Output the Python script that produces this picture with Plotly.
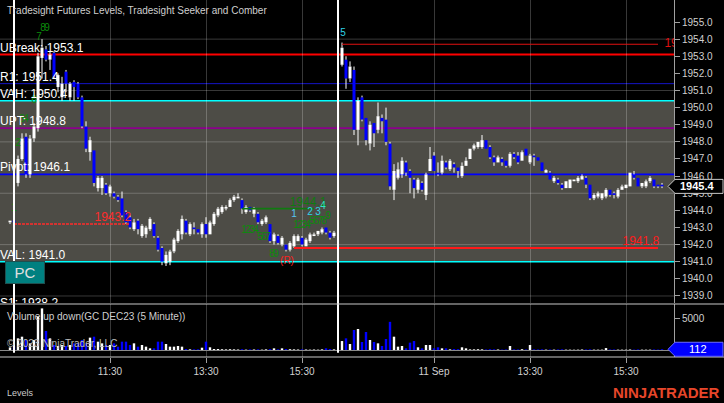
import plotly.graph_objects as go

# ---------------- data ----------------
# equidistant 5-minute bar slots; slot 82 is the session break (no bar)
slots = list(range(0, 82)) + list(range(83, 164))

opens = [
    1943.3, 1943.4, 1945.6, 1947.0, 1948.3, 1946.1, 1948.2, 1948.8, 1952.9, 1953.4,
    1952.8, 1953.2, 1951.2, 1950.6, 1952.1, 1950.6, 1951.5, 1951.4, 1950.6, 1948.9,
    1947.4, 1947.5, 1945.3, 1945.3, 1945.5, 1945.0, 1945.0, 1944.8, 1944.7, 1943.9,
    1943.6, 1942.9, 1943.4, 1942.5, 1942.6, 1942.9, 1943.2, 1942.4, 1941.8, 1940.9,
    1941.0, 1941.6, 1942.2, 1942.6, 1943.4, 1942.6, 1943.0, 1942.9, 1942.6, 1943.2,
    1942.6, 1943.2, 1943.7, 1943.9, 1944.1, 1944.2, 1944.6, 1944.7, 1944.6, 1943.9,
    1944.2, 1943.8, 1943.8, 1943.2, 1943.3, 1943.2, 1942.2, 1942.5, 1942.0, 1942.0,
    1941.7, 1941.9, 1942.2, 1942.4, 1941.9, 1942.2, 1942.5, 1942.6, 1942.7, 1943.0,
    1942.7, 1942.5,
    1952.5, 1952.8, 1951.7, 1952.2, 1948.7, 1950.6, 1949.4, 1947.9, 1949.1, 1948.7,
    1949.4, 1949.3, 1947.9, 1945.2, 1945.9, 1946.1, 1946.8, 1946.3, 1945.8, 1945.2,
    1945.6, 1944.9, 1946.3, 1947.2, 1946.2, 1946.2, 1946.8, 1946.4, 1946.7, 1946.5,
    1946.0, 1946.6, 1947.0, 1947.6, 1947.7, 1947.7, 1948.1, 1947.7, 1947.1, 1946.8,
    1947.0, 1946.9, 1946.6, 1947.3, 1947.2, 1946.9, 1947.6, 1946.8, 1947.2, 1947.1,
    1946.8, 1946.2, 1946.2, 1945.7, 1945.8, 1945.5, 1945.3, 1945.3, 1945.7, 1945.7,
    1945.8, 1945.9, 1945.5, 1944.7, 1944.8, 1944.7, 1944.8, 1945.2, 1945.0, 1944.8,
    1945.2, 1945.3, 1945.4, 1946.1, 1945.9, 1945.4, 1945.4, 1945.7, 1945.8, 1945.5,
    1945.5,
]
highs = [
    1943.4, 1943.5, 1947.2, 1948.5, 1948.5, 1948.4, 1949.1, 1953.2, 1954.0, 1953.6,
    1953.3, 1953.3, 1952.0, 1951.8, 1952.2, 1951.5, 1951.6, 1951.5, 1950.7, 1949.2,
    1948.3, 1947.5, 1946.0, 1946.0, 1945.6, 1945.5, 1945.1, 1944.9, 1945.1, 1944.0,
    1943.7, 1943.5, 1943.5, 1943.2, 1943.1, 1943.6, 1943.3, 1942.5, 1941.9, 1941.6,
    1941.7, 1942.4, 1942.9, 1943.7, 1943.5, 1943.3, 1943.3, 1942.9, 1943.3, 1943.6,
    1943.4, 1943.9, 1944.2, 1944.3, 1944.3, 1944.7, 1944.9, 1945.0, 1944.7, 1944.3,
    1944.2, 1944.2, 1943.9, 1943.5, 1943.7, 1943.2, 1942.7, 1942.6, 1942.5, 1942.0,
    1942.2, 1942.6, 1942.6, 1942.5, 1942.4, 1942.7, 1942.7, 1942.8, 1943.0, 1943.0,
    1942.8, 1942.8,
    1953.8, 1953.0, 1952.7, 1952.4, 1950.6, 1950.7, 1949.4, 1949.2, 1949.1, 1950.3,
    1949.6, 1950.0, 1948.0, 1946.7, 1946.8, 1947.1, 1946.9, 1946.4, 1945.9, 1945.9,
    1945.7, 1946.2, 1947.7, 1947.4, 1946.8, 1947.2, 1946.9, 1947.0, 1946.8, 1946.5,
    1946.8, 1947.1, 1947.6, 1947.9, 1948.0, 1948.4, 1948.1, 1947.8, 1947.2, 1947.2,
    1947.1, 1946.9, 1947.4, 1947.4, 1947.4, 1947.5, 1947.6, 1947.3, 1947.3, 1947.1,
    1946.8, 1946.4, 1946.3, 1946.0, 1945.9, 1945.6, 1945.7, 1945.8, 1945.8, 1946.0,
    1946.1, 1946.0, 1945.5, 1945.0, 1945.1, 1945.0, 1945.3, 1945.2, 1945.1, 1945.3,
    1945.5, 1945.5, 1946.2, 1946.3, 1945.9, 1945.6, 1945.8, 1946.0, 1945.8, 1945.5,
    1945.6,
]
lows = [
    1943.2, 1943.2, 1945.4, 1946.9, 1945.9, 1945.9, 1948.0, 1948.6, 1951.7, 1952.7,
    1952.2, 1951.7, 1950.9, 1950.4, 1950.9, 1950.4, 1950.4, 1950.5, 1948.8, 1947.4,
    1946.9, 1945.4, 1945.1, 1944.9, 1944.9, 1944.8, 1944.7, 1944.5, 1943.6, 1943.2,
    1942.9, 1942.8, 1942.6, 1942.4, 1942.4, 1942.8, 1942.4, 1941.6, 1940.8, 1940.75,
    1940.8, 1941.5, 1942.1, 1942.3, 1942.6, 1942.5, 1942.6, 1942.6, 1942.4, 1942.4,
    1942.6, 1943.1, 1943.6, 1943.8, 1944.0, 1944.2, 1944.5, 1944.7, 1943.8, 1943.8,
    1943.9, 1943.6, 1943.2, 1943.1, 1943.2, 1942.1, 1942.0, 1942.0, 1941.9, 1941.6,
    1941.6, 1941.8, 1942.2, 1941.9, 1941.9, 1942.1, 1942.5, 1942.5, 1942.6, 1942.6,
    1942.3, 1942.4,
    1952.4, 1951.1, 1951.5, 1948.4, 1947.8, 1949.2, 1947.8, 1947.5, 1947.7, 1948.5,
    1948.5, 1947.8, 1945.2, 1944.6, 1945.8, 1945.9, 1946.0, 1945.0, 1944.7, 1945.0,
    1945.1, 1944.6, 1946.3, 1946.3, 1946.0, 1946.1, 1946.4, 1946.3, 1946.2, 1945.9,
    1945.9, 1946.6, 1947.0, 1947.5, 1947.6, 1947.6, 1947.6, 1947.0, 1946.6, 1946.8,
    1946.6, 1946.5, 1946.5, 1947.0, 1946.7, 1946.9, 1947.2, 1946.7, 1946.6, 1946.9,
    1946.3, 1946.2, 1945.8, 1945.6, 1945.5, 1945.2, 1945.3, 1945.3, 1945.7, 1945.6,
    1945.8, 1945.3, 1944.6, 1944.6, 1944.7, 1944.6, 1944.7, 1944.8, 1944.7, 1944.7,
    1945.2, 1945.3, 1945.4, 1945.8, 1945.4, 1945.3, 1945.3, 1945.6, 1945.3, 1945.3,
    1945.3,
]
closes = [
    1943.4, 1943.3, 1947.0, 1948.2, 1946.1, 1948.2, 1948.9, 1953.0, 1953.5, 1952.8,
    1953.1, 1951.8, 1951.9, 1951.4, 1951.4, 1951.4, 1951.2, 1950.6, 1948.9, 1947.6,
    1948.1, 1945.6, 1945.9, 1945.9, 1945.0, 1945.4, 1944.8, 1944.6, 1943.7, 1943.3,
    1943.0, 1943.3, 1942.9, 1943.1, 1943.0, 1943.5, 1942.5, 1941.7, 1941.0, 1941.4,
    1941.6, 1942.3, 1942.8, 1943.5, 1942.7, 1943.2, 1942.9, 1942.7, 1943.2, 1942.6,
    1943.3, 1943.8, 1944.1, 1944.2, 1944.2, 1944.6, 1944.8, 1944.8, 1944.1, 1944.2,
    1944.0, 1944.1, 1943.3, 1943.4, 1943.6, 1942.2, 1942.6, 1942.1, 1942.4, 1941.7,
    1942.1, 1942.5, 1942.5, 1942.0, 1942.3, 1942.6, 1942.6, 1942.8, 1942.9, 1942.7,
    1942.4, 1942.7,
    1953.5, 1951.7, 1952.4, 1948.7, 1950.4, 1949.3, 1948.1, 1949.0, 1948.5, 1949.5,
    1949.2, 1948.0, 1945.4, 1946.3, 1946.4, 1946.9, 1946.2, 1945.9, 1945.3, 1945.8,
    1945.2, 1946.1, 1947.0, 1946.3, 1946.1, 1946.9, 1946.5, 1946.9, 1946.5, 1946.3,
    1946.6, 1946.9, 1947.6, 1947.8, 1948.0, 1948.1, 1947.6, 1947.1, 1946.8, 1947.1,
    1946.8, 1946.6, 1947.3, 1947.1, 1946.8, 1947.4, 1947.2, 1947.2, 1947.1, 1946.9,
    1946.3, 1946.35, 1945.8, 1945.9, 1945.6, 1945.3, 1945.7, 1945.8, 1945.8, 1945.9,
    1946.0, 1945.5, 1944.7, 1944.9, 1945.0, 1945.0, 1945.2, 1944.9, 1944.9, 1945.2,
    1945.4, 1945.5, 1946.2, 1945.9, 1945.4, 1945.6, 1945.7, 1945.9, 1945.4, 1945.4,
    1945.4,
]
volumes = [
    400, 600, 1820, 2080, 1560, 1040, 1560, 5200, 6500, 2970,
    1820, 780, 625, 780, 625, 780, 1040, 1040, 1560, 1040,
    1930, 2080, 1300, 1040, 780, 780, 1040, 520, 1300, 1300,
    780, 1040, 520, 780, 520, 260, 260, 1300, 1300, 940,
    520, 520, 625, 520, 160, 100, 100, 100, 360, 1300,
    420, 160, 160, 120, 100, 120, 100, 80, 120, 60,
    100, 80, 100, 60, 100, 140, 260, 100, 260, 160,
    120, 100, 80, 100, 80, 60, 80, 60, 100, 260,
    160, 100,
    1400, 1820, 940, 3125, 3280, 1250, 2810, 1560, 1250, 1040,
    625, 1720, 4400, 2080, 520, 625, 260, 1150, 1400, 420,
    260, 780, 780, 260, 420, 260, 260, 100, 150, 120,
    420, 260, 100, 100, 120, 100, 80, 120, 100, 80,
    60, 80, 625, 100, 80, 120, 80, 780, 100, 80,
    100, 60, 80, 60, 80, 100, 60, 60, 50, 60,
    80, 80, 100, 60, 60, 60, 300, 80, 80, 60,
    60, 60, 80, 60, 80, 60, 60, 60, 80, 60,
    112,
]

tick_slots = [25, 49, 73, 106, 130, 154]
tick_labels = ["11:30", "13:30", "15:30", "11 Sep", "13:30", "15:30"]
session_breaks = [1, 82]

price_ticks = [1939.0, 1940.0, 1941.0, 1942.0, 1943.0, 1944.0, 1945.0, 1946.0,
               1947.0, 1948.0, 1949.0, 1950.0, 1951.0, 1952.0, 1953.0, 1954.0, 1955.0]
grid_levels = [1939.0, 1942.0, 1945.0, 1948.0, 1951.0, 1954.0]
volume_ticks = [5000]

level_names = ["UBreak", "R1", "VAH", "UPT", "Pivot", "VAL", "S1"]
level_values = [1953.1, 1951.4, 1950.4, 1948.8, 1946.1, 1941.0, 1938.2]
level_colors = ["#ff0000", "#1414c8", "#00ffff", "#8b008b", "#0000ff", "#00ffff", "#ff0000"]
level_widths = [2, 1, 1.6, 1.6, 1.6, 1.6, 1]

seg_from = [1, 58, 71, 83]
seg_to = [30, 76, 162, 162]
seg_value = [1943.2, 1944.1, 1941.8, 1953.7]
seg_color = ["#ff2b2b", "#107a10", "#ff1a1a", "#e01010"]
seg_width = [1.5, 1.6, 2, 1]
seg_dash = ["3px,1px", "solid", "solid", "solid"]
seg_label_slot = [30.3, 74.5, 162.3, 163.6]
seg_label_pos = ["top left", "top center", "top left", "middle right"]

seeker_text = ["1", "2", "3", "4", "6", "7", "8", "9",
               "1", "2", "3", "4", "5", "6", "7", "8", "9",
               "1", "2", "3", "4", "5", "6", "7", "8", "9"]
seeker_slot = [1, 2, 3, 4, 6, 7.25, 8.25, 9.25,
               58.5, 59.5, 60.5, 61.5, 62.5, 63.5, 64.5, 65.5, 66.5,
               71.5, 72.5, 73.5, 74.5, 75.5, 76.5, 77.5, 78.5, 79.5]
seeker_price = [1944.1, 1947.9, 1949.3, 1949.3, 1950.4, 1954.1, 1954.65, 1954.65,
                1942.8, 1942.8, 1942.8, 1942.8, 1942.4, 1942.4, 1942.4, 1941.45, 1941.45,
                1943.1, 1943.1, 1943.1, 1943.1, 1943.35, 1943.35, 1943.35, 1943.35, 1943.65]

comber_text = ["1", "2", "3", "4", "5"]
comber_slot = [71, 75, 77, 78.25, 83.25]
comber_price = [1943.73, 1943.9, 1943.9, 1944.2, 1954.35]
comber_color = ["#58c4f5", "#2fd5e8", "#2fd5e8", "#35e0c8", "#2fd5e8"]

reversal_text = ["(R)"]
reversal_slot = [69.25]
reversal_price = [1941.0]

# ---------------- geometry / style ----------------
FONT = "Liberation Sans, Arial, sans-serif"
W, H = 724, 403
PLOT_W, PLOT_H = 674, 357
PRICE_BOTTOM_PX = 303
VOL_TOP_PX = 304
X_RANGE = [-2.5, 166.0]
P_RANGE = [1938.59, 1956.285]
V_RANGE = [-1094, 7188]
BAND = "#4d4c46"
GRID = "rgba(255,255,255,0.22)"
UPC, DNC = "#ffffff", "#0000ff"

def px_x(p):
    return p / PLOT_W

def px_y(p):
    return (PLOT_H - p) / PLOT_H

up = [c >= o for o, c in zip(opens, closes)]
bar_colors = [UPC if u else DNC for u in up]
body_base = [min(o, c) for o, c in zip(opens, closes)]
body_top = [max(o, c) for o, c in zip(opens, closes)]
body_h = [max(t - b, 0.07) for b, t in zip(body_base, body_top)]

# wicks only outside the body (white)
wick_x, wick_y = [], []
for s, hi, lo, b, t in zip(slots, highs, lows, body_base, body_top):
    if hi > t:
        wick_x += [s, s, None]
        wick_y += [t, hi, None]
    if lo < b:
        wick_x += [s, s, None]
        wick_y += [lo, b, None]

fig = go.Figure()

fig.add_trace(go.Scatter(x=wick_x, y=wick_y, mode="lines",
                         line=dict(color="#ffffff", width=1),
                         xaxis="x", yaxis="y", hoverinfo="skip"))
fig.add_trace(go.Bar(x=slots, y=body_h, base=body_base, width=0.75,
                     marker=dict(color=bar_colors, line=dict(width=0)),
                     xaxis="x", yaxis="y", hoverinfo="skip"))

# short level segments
for a, b, v, c, w, d in zip(seg_from, seg_to, seg_value, seg_color, seg_width, seg_dash):
    fig.add_trace(go.Scatter(x=[a, b], y=[v, v], mode="lines",
                             line=dict(color=c, width=w, dash=d),
                             xaxis="x", yaxis="y", hoverinfo="skip"))
fig.add_trace(go.Scatter(x=seg_label_slot, y=seg_value, mode="text",
                         text=[f"{v:.1f}" for v in seg_value],
                         textposition=seg_label_pos,
                         textfont=dict(family=FONT, size=12, color=seg_color),
                         xaxis="x", yaxis="y", hoverinfo="skip", cliponaxis=True))

# seeker / comber counts
fig.add_trace(go.Scatter(x=seeker_slot, y=seeker_price, mode="text", text=seeker_text,
                         textposition="middle center",
                         textfont=dict(family=FONT, size=10, color="#0b8a0b"),
                         xaxis="x", yaxis="y", hoverinfo="skip"))
fig.add_trace(go.Scatter(x=comber_slot, y=comber_price, mode="text", text=comber_text,
                         textposition="middle center",
                         textfont=dict(family=FONT, size=10, color=comber_color),
                         xaxis="x", yaxis="y", hoverinfo="skip"))
fig.add_trace(go.Scatter(x=reversal_slot, y=reversal_price, mode="text", text=reversal_text,
                         textposition="middle center",
                         textfont=dict(family=FONT, size=10, color="#ff2020"),
                         xaxis="x", yaxis="y", hoverinfo="skip"))

# level labels at left edge (clipped by the price panel)
fig.add_trace(go.Scatter(x=[X_RANGE[0]] * len(level_values), y=level_values, mode="text",
                         text=[f"{n}: {v:.1f}" for n, v in zip(level_names, level_values)],
                         textposition="top right",
                         textfont=dict(family=FONT, size=12, color="#ffffff"),
                         xaxis="x", yaxis="y", hoverinfo="skip", cliponaxis=True))

# volume
fig.add_trace(go.Bar(x=slots, y=volumes, width=0.6,
                     marker=dict(color=bar_colors, line=dict(width=0)),
                     xaxis="x2", yaxis="y2", hoverinfo="skip"))

shapes = []
val = level_values[level_names.index("VAL")]
vah = level_values[level_names.index("VAH")]
shapes.append(dict(type="rect", xref="paper", yref="y", x0=0, x1=1, y0=val, y1=vah,
                   fillcolor=BAND, line=dict(width=0), layer="below"))
for g in grid_levels:
    shapes.append(dict(type="line", xref="paper", yref="y", x0=0, x1=1, y0=g, y1=g,
                       line=dict(color=GRID, width=1), layer="below"))
for v, c, w in zip(level_values, level_colors, level_widths):
    shapes.append(dict(type="line", xref="paper", yref="y", x0=0, x1=1, y0=v, y1=v,
                       line=dict(color=c, width=w), layer="below"))
for b in session_breaks:
    shapes.append(dict(type="line", xref="x", yref="paper", x0=b, x1=b, y0=0.012, y1=1,
                       line=dict(color="#ffffff", width=2), layer="above"))
for ypx in (VOL_TOP_PX, PLOT_H):
    shapes.append(dict(type="line", xref="paper", yref="paper", x0=0, x1=W / PLOT_W,
                       y0=px_y(ypx), y1=px_y(ypx), line=dict(color="#c8c8c8", width=1),
                       layer="above"))

# last price / last volume tags
p_per_px = (P_RANGE[1] - P_RANGE[0]) / PRICE_BOTTOM_PX
v_per_px = (V_RANGE[1] - V_RANGE[0]) / (PLOT_H - VOL_TOP_PX)
last_close = closes[-1]
last_vol = volumes[-1]
tip, bl, br = px_x(668), px_x(675), px_x(723)
hp = 7 * p_per_px
shapes.append(dict(type="path", xref="paper", yref="y",
                   path=f"M {tip},{last_close} L {bl},{last_close + hp} L {br},{last_close + hp} "
                        f"L {br},{last_close - hp} L {bl},{last_close - hp} Z",
                   fillcolor="#000000", line=dict(color="#c8c8c8", width=1), layer="above"))
hv = 7 * v_per_px
shapes.append(dict(type="path", xref="paper", yref="y2",
                   path=f"M {tip},{last_vol} L {bl},{last_vol + hv} L {br},{last_vol + hv} "
                        f"L {br},{last_vol - hv} L {bl},{last_vol - hv} Z",
                   fillcolor="#0000ff", line=dict(color="#6a6aff", width=1), layer="above"))

annotations = [
    dict(text="Tradesight Futures Levels, Tradesight Seeker and Comber", x=px_x(5), y=px_y(10),
         xref="paper", yref="paper", xanchor="left", yanchor="middle", showarrow=False,
         font=dict(family=FONT, size=10, color="#cfcfcf")),
    dict(text="Volume up down(GC DEC23 (5 Minute))", x=px_x(5), y=px_y(316),
         xref="paper", yref="paper", xanchor="left", yanchor="middle", showarrow=False,
         font=dict(family=FONT, size=10, color="#cfcfcf")),
    dict(text="© 2023 NinjaTrader, LLC", x=px_x(5), y=px_y(343),
         xref="paper", yref="paper", xanchor="left", yanchor="middle", showarrow=False,
         font=dict(family=FONT, size=10, color="#bbbbbb")),
    dict(text="Levels", x=px_x(5), y=px_y(393),
         xref="paper", yref="paper", xanchor="left", yanchor="middle", showarrow=False,
         font=dict(family=FONT, size=9, color="#cccccc")),
    dict(text="<b>NINJATRADER</b>", x=px_x(722), y=px_y(392),
         xref="paper", yref="paper", xanchor="right", yanchor="middle", showarrow=False,
         font=dict(family=FONT, size=15, color="#e8462a")),
    dict(text="PC", x=px_x(25), y=px_y(272.5), xref="paper", yref="paper",
         xanchor="center", yanchor="middle", showarrow=False, width=38, height=21,
         bgcolor="#008080", bordercolor="#1f4f4f", borderwidth=1, borderpad=0,
         font=dict(family=FONT, size=15, color="#e0e0e0")),
    dict(text=f"<b>{last_close:.1f}</b>", x=px_x(698), y=last_close, xref="paper", yref="y",
         xanchor="center", yanchor="middle", showarrow=False,
         font=dict(family=FONT, size=11, color="#ffffff")),
    dict(text=f"{last_vol}", x=px_x(698), y=last_vol, xref="paper", yref="y2",
         xanchor="center", yanchor="middle", showarrow=False,
         font=dict(family=FONT, size=11, color="#ffffff")),
]

axis_font = dict(family=FONT, size=10, color="#d0d0d0")
fig.update_layout(
    width=W, height=H,
    margin=dict(l=0, r=W - PLOT_W, t=0, b=H - PLOT_H, pad=0),
    paper_bgcolor="#000000", plot_bgcolor="#000000",
    showlegend=False, hovermode=False, barmode="overlay",
    xaxis=dict(domain=[0, 1], range=X_RANGE, anchor="y", tickmode="array",
               tickvals=tick_slots, showticklabels=False, ticks="",
               showgrid=True, gridcolor=GRID, gridwidth=1, zeroline=False,
               showline=False, automargin=False),
    xaxis2=dict(domain=[0, 1], range=X_RANGE, anchor="y2", tickmode="array",
                tickvals=tick_slots, ticktext=tick_labels, ticks="outside", ticklen=5,
                tickcolor="#a0a0a0", tickfont=axis_font, showgrid=True, gridcolor=GRID,
                gridwidth=1, zeroline=False, showline=False, automargin=False),
    yaxis=dict(domain=[px_y(PRICE_BOTTOM_PX), 1], range=P_RANGE, anchor="x", side="right",
               tickmode="array", tickvals=price_ticks,
               ticktext=[f"{t:.1f}" for t in price_ticks], ticks="outside", ticklen=5,
               tickcolor="#a0a0a0", tickfont=axis_font, showgrid=False, zeroline=False,
               showline=True, linecolor="#a0a0a0", linewidth=1, automargin=False),
    yaxis2=dict(domain=[0, px_y(VOL_TOP_PX)], range=V_RANGE, anchor="x2", side="right",
                tickmode="array", tickvals=volume_ticks, ticks="outside", ticklen=5,
                tickcolor="#a0a0a0", tickfont=axis_font, showgrid=False,
                zeroline=True, zerolinecolor="#8a8a8a", zerolinewidth=1,
                showline=True, linecolor="#a0a0a0", linewidth=1, automargin=False),
    shapes=shapes,
    annotations=annotations,
)

fig.write_html("out.html",
               config={"displayModeBar": False, "staticPlot": True},
               post_script="document.body.style.margin='0';document.body.style.padding='0';"
                           "document.body.style.background='#000';")
